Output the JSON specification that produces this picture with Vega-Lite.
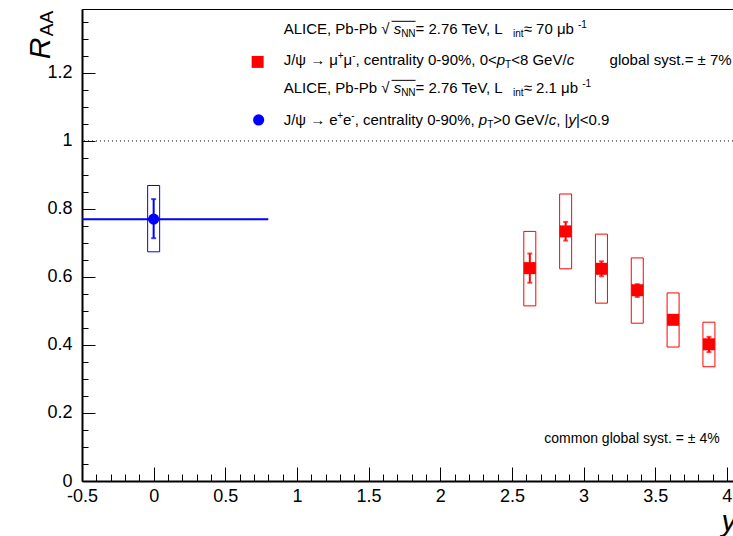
{
  "$schema": "https://vega.github.io/schema/vega-lite/v6.json",
  "width": 651,
  "height": 472,
  "autosize": "none",
  "padding": {"left": 82, "top": 9, "right": 0, "bottom": 55},
  "background": "white",
  "config": {
    "font": "Liberation Sans",
    "view": {"stroke": "#000", "strokeWidth": 1},
    "scale": {"continuousPadding": 0},
    "axis": {"grid": false, "domainColor": "#000", "tickColor": "#000", "labelColor": "#000", "titleColor": "#000", "labelFont": "Liberation Sans", "titleFont": "Liberation Sans"}
  },
  "datasets": {
    "mu": [
      {"rap": 2.625, "raa": 0.626, "stat_lo": 0.583, "stat_hi": 0.669, "syst_lo": 0.515, "syst_hi": 0.734},
      {"rap": 2.875, "raa": 0.734, "stat_lo": 0.707, "stat_hi": 0.762, "syst_lo": 0.624, "syst_hi": 0.844},
      {"rap": 3.125, "raa": 0.624, "stat_lo": 0.602, "stat_hi": 0.646, "syst_lo": 0.523, "syst_hi": 0.726},
      {"rap": 3.375, "raa": 0.561, "stat_lo": 0.541, "stat_hi": 0.579, "syst_lo": 0.464, "syst_hi": 0.656},
      {"rap": 3.625, "raa": 0.474, "stat_lo": 0.464, "stat_hi": 0.484, "syst_lo": 0.394, "syst_hi": 0.553},
      {"rap": 3.875, "raa": 0.402, "stat_lo": 0.379, "stat_hi": 0.424, "syst_lo": 0.336, "syst_hi": 0.467}
    ],
    "ee": [
      {"rap": 0, "rap_lo": -0.8, "rap_hi": 0.8, "raa": 0.77, "stat_lo": 0.714, "stat_hi": 0.829, "syst_lo": 0.674, "syst_hi": 0.869}
    ],
    "unity": [{"raa": 1}],
    "key_mu": [{"rap": 0.7257, "raa": 1.2324}],
    "key_ee": [{"rap": 0.7327, "raa": 1.0618}],
    "sqrt_bar": [
      {"rap": 1.6602, "rap2": 1.8276, "raa": 1.3518},
      {"rap": 1.6602, "rap2": 1.8276, "raa": 1.1782}
    ],
    "lbl_main": [
      {"rap": 0.9072, "raa": 1.3150, "label": "ALICE, Pb-Pb  √"},
      {"rap": 1.8276, "raa": 1.3150, "label": " = 2.76 TeV, L"},
      {"rap": 2.5820, "raa": 1.3150, "label": " ≈ 70 μb"},
      {"rap": 0.9072, "raa": 1.2224, "label": "J/ψ → μ"},
      {"rap": 1.3245, "raa": 1.2224, "label": "μ"},
      {"rap": 1.4082, "raa": 1.2224, "label": ", centrality 0-90%, 0<"},
      {"rap": 2.4948, "raa": 1.2224, "label": "<8 GeV/"},
      {"rap": 0.9072, "raa": 1.1400, "label": "ALICE, Pb-Pb  √"},
      {"rap": 1.8276, "raa": 1.1400, "label": " = 2.76 TeV, L"},
      {"rap": 2.5820, "raa": 1.1400, "label": " ≈ 2.1 μb"},
      {"rap": 0.9072, "raa": 1.0459, "label": "J/ψ → e"},
      {"rap": 1.3217, "raa": 1.0459, "label": "e"},
      {"rap": 1.4027, "raa": 1.0459, "label": ", centrality 0-90%, "},
      {"rap": 2.3699, "raa": 1.0459, "label": ">0 GeV/"},
      {"rap": 2.8095, "raa": 1.0459, "label": ", |"},
      {"rap": 2.9470, "raa": 1.0459, "label": "|<0.9"}
    ],
    "lbl_ital": [
      {"rap": 1.6748, "raa": 1.3150, "label": "s"},
      {"rap": 1.6748, "raa": 1.1400, "label": "s"},
      {"rap": 2.3943, "raa": 1.2224, "label": "p"},
      {"rap": 2.8821, "raa": 1.2224, "label": "c"},
      {"rap": 2.2694, "raa": 1.0459, "label": "p"},
      {"rap": 2.7572, "raa": 1.0459, "label": "c"},
      {"rap": 2.8946, "raa": 1.0459, "label": "y"}
    ],
    "lbl_sub": [
      {"rap": 1.7272, "raa": 1.3150, "label": "NN"},
      {"rap": 2.5080, "raa": 1.3150, "label": "int"},
      {"rap": 1.7272, "raa": 1.1400, "label": "NN"},
      {"rap": 2.5080, "raa": 1.1400, "label": "int"},
      {"rap": 2.4522, "raa": 1.2224, "label": "T"},
      {"rap": 2.3273, "raa": 1.0459, "label": "T"}
    ],
    "lbl_sup": [
      {"rap": 1.2840, "raa": 1.2224, "label": "+"},
      {"rap": 1.3852, "raa": 1.2224, "label": "-"},
      {"rap": 1.2812, "raa": 1.0459, "label": "+"},
      {"rap": 1.3796, "raa": 1.0459, "label": "-"},
      {"rap": 2.9616, "raa": 1.3150, "label": "-1"},
      {"rap": 2.9909, "raa": 1.1400, "label": "-1"}
    ],
    "lbl_right": [
      {"rap": 4.0335, "raa": 1.2224, "label": "global syst.= ± 7%"}
    ],
    "lbl_common": [
      {"rap": 3.9498, "raa": 0.1118, "label": "common global syst. = ±  4%"}
    ]
  },
  "layer": [
    {
      "data": {"name": "unity"},
      "mark": {"type": "rule", "strokeDash": [1, 3], "color": "#000", "strokeWidth": 1},
      "encoding": {
        "y": {"field": "raa", "type": "quantitative", "scale": {"domain": [0, 1.388], "nice": false, "zero": false}, "axis": null}
      }
    },
    {
      "data": {"name": "mu"},
      "mark": {"type": "bar", "width": 12, "fill": "#ffffff", "fillOpacity": 0, "stroke": "#ff0000", "strokeWidth": 1},
      "encoding": {
        "x": {"field": "rap", "type": "quantitative", "scale": {"domain": [-0.5, 4.043], "nice": false, "zero": false},
          "axis": {"orient": "bottom", "values": [-0.5, 0, 0.5, 1, 1.5, 2, 2.5, 3, 3.5, 4], "labelExpr": "'' + datum.value", "tickSize": -14, "tickWidth": 1, "domainWidth": 2, "labelFontSize": 18, "labelPadding": 20, "labelFlush": false, "labelOverlap": false,
            "title": "y", "titleFontStyle": "italic", "titleFontWeight": "normal", "titleFontSize": 30, "titleX": 639, "titleY": 49, "titleAlign": "left", "titleBaseline": "alphabetic"}},
        "y": {"field": "syst_lo", "type": "quantitative", "scale": {"domain": [0, 1.388], "nice": false, "zero": false},
          "axis": {"orient": "left", "values": [0, 0.2, 0.4, 0.6, 0.8, 1, 1.2], "labelExpr": "'' + datum.value", "tickSize": -13, "tickWidth": 1, "domainWidth": 2, "labelFontSize": 18, "labelPadding": 23, "labelFlush": false, "labelOverlap": false,
            "title": "R", "titleFontStyle": "italic", "titleFontWeight": "normal", "titleFontSize": 30, "titleX": -42, "titleY": 39, "titleAlign": "center", "titleBaseline": "middle"}},
        "y2": {"field": "syst_hi"}
      }
    },
    {
      "data": {"name": "ee"},
      "mark": {"type": "bar", "width": 12, "fill": "#ffffff", "fillOpacity": 0, "stroke": "#0000ff", "strokeWidth": 1},
      "encoding": {
        "x": {"field": "rap", "type": "quantitative", "scale": {"domain": [-0.5, 4.043], "nice": false, "zero": false}, "axis": null},
        "y": {"field": "syst_lo", "type": "quantitative", "scale": {"domain": [0, 1.388], "nice": false, "zero": false}, "axis": null},
        "y2": {"field": "syst_hi"}
      }
    },
    {
      "data": {"name": "ee"},
      "mark": {"type": "rule", "color": "#0000ff", "strokeWidth": 2, "clip": true},
      "encoding": {
        "x": {"field": "rap_lo", "type": "quantitative", "scale": {"domain": [-0.5, 4.043], "nice": false, "zero": false}, "axis": null},
        "x2": {"field": "rap_hi"},
        "y": {"field": "raa", "type": "quantitative", "scale": {"domain": [0, 1.388], "nice": false, "zero": false}, "axis": null}
      }
    },
    {
      "data": {"name": "mu"},
      "mark": {"type": "errorbar", "color": "#ff0000", "thickness": 2, "ticks": {"size": 5, "thickness": 2}},
      "encoding": {
        "x": {"field": "rap", "type": "quantitative", "scale": {"domain": [-0.5, 4.043], "nice": false, "zero": false}, "axis": null},
        "y": {"field": "stat_lo", "type": "quantitative", "scale": {"domain": [0, 1.388], "nice": false, "zero": false}, "axis": null},
        "y2": {"field": "stat_hi"}
      }
    },
    {
      "data": {"name": "ee"},
      "mark": {"type": "errorbar", "color": "#0000ff", "thickness": 2, "ticks": {"size": 5, "thickness": 2}},
      "encoding": {
        "x": {"field": "rap", "type": "quantitative", "scale": {"domain": [-0.5, 4.043], "nice": false, "zero": false}, "axis": null},
        "y": {"field": "stat_lo", "type": "quantitative", "scale": {"domain": [0, 1.388], "nice": false, "zero": false}, "axis": null},
        "y2": {"field": "stat_hi"}
      }
    },
    {
      "data": {"name": "mu"},
      "mark": {"type": "point", "shape": "square", "filled": true, "size": 144, "color": "#ff0000", "opacity": 1},
      "encoding": {
        "x": {"field": "rap", "type": "quantitative", "scale": {"domain": [-0.5, 4.043], "nice": false, "zero": false},
          "axis": {"orient": "bottom", "values": [-0.4, -0.3, -0.2, -0.1, 0.1, 0.2, 0.3, 0.4, 0.6, 0.7, 0.8, 0.9, 1.1, 1.2, 1.3, 1.4, 1.6, 1.7, 1.8, 1.9, 2.1, 2.2, 2.3, 2.4, 2.6, 2.7, 2.8, 2.9, 3.1, 3.2, 3.3, 3.4, 3.6, 3.7, 3.8, 3.9], "labels": false, "tickSize": -7, "tickWidth": 1, "domain": false, "title": null}},
        "y": {"field": "raa", "type": "quantitative", "scale": {"domain": [0, 1.388], "nice": false, "zero": false},
          "axis": {"orient": "left", "values": [0.05, 0.1, 0.15, 0.25, 0.3, 0.35, 0.45, 0.5, 0.55, 0.65, 0.7, 0.75, 0.85, 0.9, 0.95, 1.05, 1.1, 1.15, 1.25, 1.3, 1.35], "labels": false, "tickSize": -6, "tickWidth": 1, "domain": false,
            "title": "AA", "titleFontStyle": "normal", "titleFontWeight": "normal", "titleFontSize": 19, "titleX": -36, "titleY": 14, "titleAlign": "center", "titleBaseline": "middle"}}
      }
    },
    {
      "data": {"name": "ee"},
      "mark": {"type": "point", "shape": "circle", "filled": true, "size": 125, "color": "#0000ff", "opacity": 1},
      "encoding": {
        "x": {"field": "rap", "type": "quantitative", "scale": {"domain": [-0.5, 4.043], "nice": false, "zero": false}, "axis": null},
        "y": {"field": "raa", "type": "quantitative", "scale": {"domain": [0, 1.388], "nice": false, "zero": false}, "axis": null}
      }
    },
    {
      "data": {"name": "key_mu"},
      "mark": {"type": "point", "shape": "square", "filled": true, "size": 144, "color": "#ff0000", "opacity": 1},
      "encoding": {
        "x": {"field": "rap", "type": "quantitative", "scale": {"domain": [-0.5, 4.043], "nice": false, "zero": false}, "axis": null},
        "y": {"field": "raa", "type": "quantitative", "scale": {"domain": [0, 1.388], "nice": false, "zero": false}, "axis": null}
      }
    },
    {
      "data": {"name": "key_ee"},
      "mark": {"type": "point", "shape": "circle", "filled": true, "size": 125, "color": "#0000ff", "opacity": 1},
      "encoding": {
        "x": {"field": "rap", "type": "quantitative", "scale": {"domain": [-0.5, 4.043], "nice": false, "zero": false}, "axis": null},
        "y": {"field": "raa", "type": "quantitative", "scale": {"domain": [0, 1.388], "nice": false, "zero": false}, "axis": null}
      }
    },
    {
      "data": {"name": "sqrt_bar"},
      "mark": {"type": "rule", "color": "#000", "strokeWidth": 1},
      "encoding": {
        "x": {"field": "rap", "type": "quantitative", "scale": {"domain": [-0.5, 4.043], "nice": false, "zero": false}, "axis": null},
        "x2": {"field": "rap2"},
        "y": {"field": "raa", "type": "quantitative", "scale": {"domain": [0, 1.388], "nice": false, "zero": false}, "axis": null}
      }
    },
    {
      "data": {"name": "lbl_main"},
      "mark": {"type": "text", "align": "left", "baseline": "alphabetic", "fontSize": 15, "color": "#000"},
      "encoding": {
        "x": {"field": "rap", "type": "quantitative", "scale": {"domain": [-0.5, 4.043], "nice": false, "zero": false}, "axis": null},
        "y": {"field": "raa", "type": "quantitative", "scale": {"domain": [0, 1.388], "nice": false, "zero": false}, "axis": null},
        "text": {"field": "label"}
      }
    },
    {
      "data": {"name": "lbl_ital"},
      "mark": {"type": "text", "align": "left", "baseline": "alphabetic", "fontSize": 15, "fontStyle": "italic", "color": "#000"},
      "encoding": {
        "x": {"field": "rap", "type": "quantitative", "scale": {"domain": [-0.5, 4.043], "nice": false, "zero": false}, "axis": null},
        "y": {"field": "raa", "type": "quantitative", "scale": {"domain": [0, 1.388], "nice": false, "zero": false}, "axis": null},
        "text": {"field": "label"}
      }
    },
    {
      "data": {"name": "lbl_sub"},
      "mark": {"type": "text", "align": "left", "baseline": "alphabetic", "fontSize": 10, "dy": 3, "color": "#000"},
      "encoding": {
        "x": {"field": "rap", "type": "quantitative", "scale": {"domain": [-0.5, 4.043], "nice": false, "zero": false}, "axis": null},
        "y": {"field": "raa", "type": "quantitative", "scale": {"domain": [0, 1.388], "nice": false, "zero": false}, "axis": null},
        "text": {"field": "label"}
      }
    },
    {
      "data": {"name": "lbl_sup"},
      "mark": {"type": "text", "align": "left", "baseline": "alphabetic", "fontSize": 10, "dy": -6, "color": "#000"},
      "encoding": {
        "x": {"field": "rap", "type": "quantitative", "scale": {"domain": [-0.5, 4.043], "nice": false, "zero": false}, "axis": null},
        "y": {"field": "raa", "type": "quantitative", "scale": {"domain": [0, 1.388], "nice": false, "zero": false}, "axis": null},
        "text": {"field": "label"}
      }
    },
    {
      "data": {"name": "lbl_right"},
      "mark": {"type": "text", "align": "right", "baseline": "alphabetic", "fontSize": 15, "color": "#000"},
      "encoding": {
        "x": {"field": "rap", "type": "quantitative", "scale": {"domain": [-0.5, 4.043], "nice": false, "zero": false}, "axis": null},
        "y": {"field": "raa", "type": "quantitative", "scale": {"domain": [0, 1.388], "nice": false, "zero": false}, "axis": null},
        "text": {"field": "label"}
      }
    },
    {
      "data": {"name": "lbl_common"},
      "mark": {"type": "text", "align": "right", "baseline": "alphabetic", "fontSize": 14, "color": "#000"},
      "encoding": {
        "x": {"field": "rap", "type": "quantitative", "scale": {"domain": [-0.5, 4.043], "nice": false, "zero": false}, "axis": null},
        "y": {"field": "raa", "type": "quantitative", "scale": {"domain": [0, 1.388], "nice": false, "zero": false}, "axis": null},
        "text": {"field": "label"}
      }
    }
  ],
  "resolve": {"axis": {"x": "independent", "y": "independent"}}
}
